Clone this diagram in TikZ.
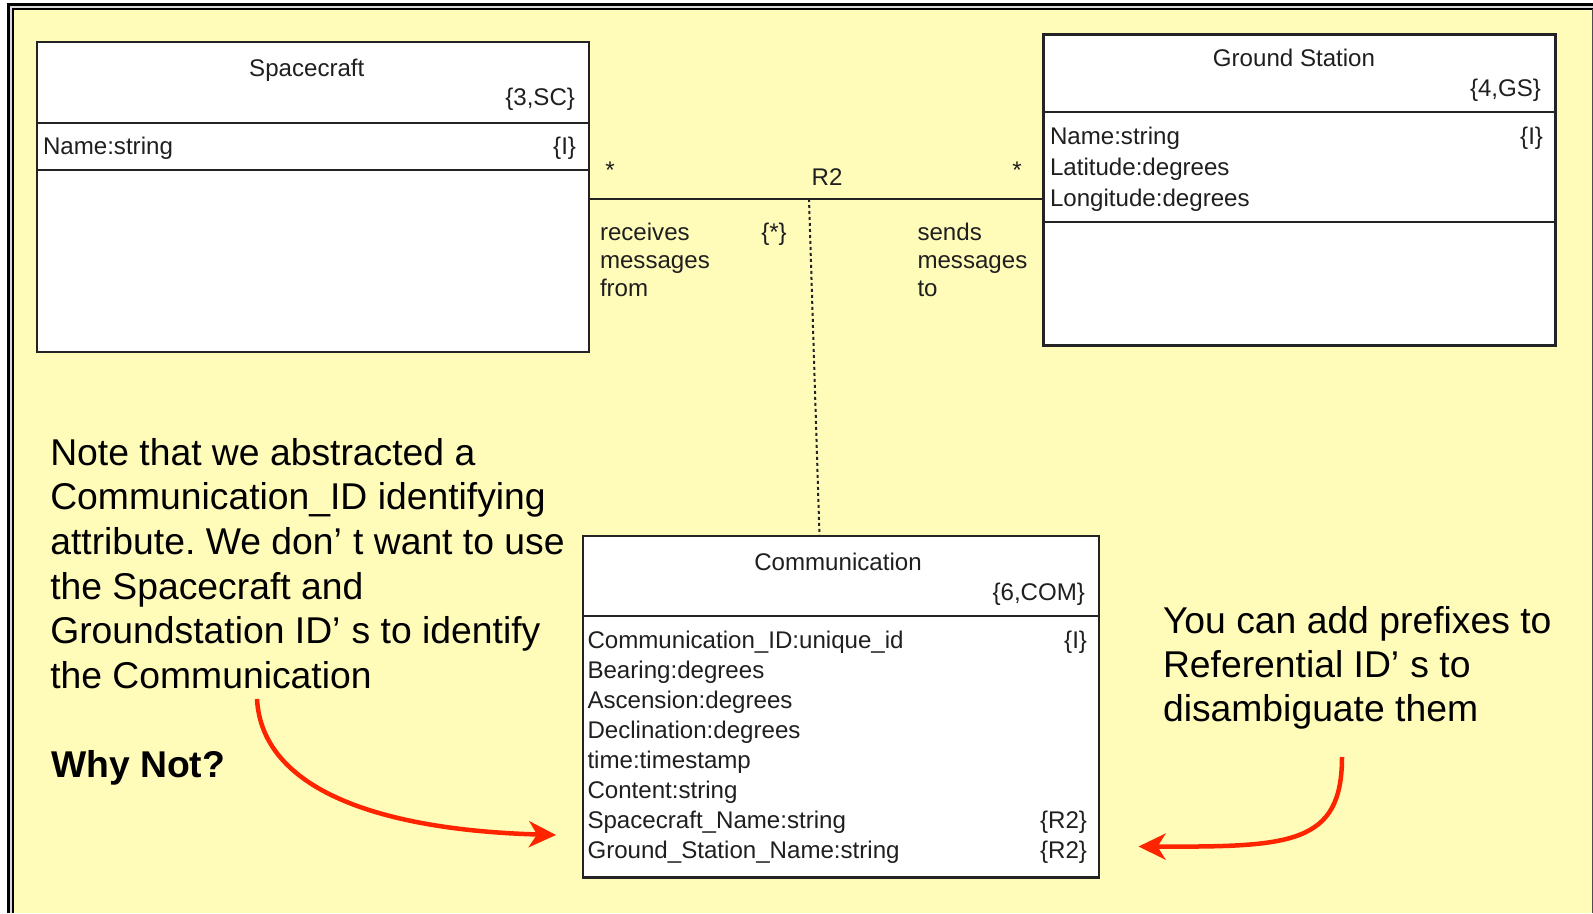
\documentclass[tikz,border=0pt]{standalone}
\usepackage{fontspec}
\setmainfont{Liberation Sans}
\usetikzlibrary{arrows.meta}
\frenchspacing

\definecolor{slideyellow}{RGB}{255,251,185}
\definecolor{notered}{RGB}{255,36,0}
\definecolor{umlline}{RGB}{35,35,35}

\newcommand\umlfont{\fontsize{24.1}{30.4}\selectfont}
\newcommand\notefont{\fontsize{37.3}{44.7}\selectfont}
% lines stacked at a fixed baseline distance; the box baseline is that of the first line
\newcommand\stackedlines[2]{\vtop{\baselineskip=#1\relax\lineskiplimit=-100pt #2}}

\begin{document}
\begin{tikzpicture}[x=1pt,y=-1pt,
  umlbox/.style={draw=umlline, line width=2.2pt, fill=white, inner sep=0pt, outer sep=0pt, anchor=north west},
  umltext/.style={font=\umlfont, text=black!88, inner sep=0pt, outer sep=0pt},
  notetext/.style={font=\notefont, text=black, inner sep=0pt, outer sep=0pt, anchor=base west},
  divider/.style={draw=umlline, line width=2pt},
  assoc/.style={draw=umlline, line width=1.6pt},
  refline/.style={draw=umlline, line width=2pt, dash pattern=on 3pt off 3pt},
  callout/.style={draw=notered, line width=4.5pt, -{Stealth[length=27pt,width=26pt,inset=8pt]}}
]
\useasboundingbox (0,0) rectangle (1593,913);

% slide background with its double frame
\fill[white] (0,0) rectangle (1593,913);
\fill[black!15] (10,5) rectangle (1593,913);
\fill[slideyellow] (14,10) rectangle (1593,913);
\draw[black, line width=3pt] (8.5,913) -- (8.5,4) -- (1593,4);
\draw[black, line width=2pt] (13,913) -- (13,9) -- (1593,9);
\draw[black!70, line width=1.4pt] (1592.3,9) -- (1592.3,913);

% classes
\node[umlbox, minimum width=552.1pt, minimum height=310.3pt] (sc) at (36.6,41.7) {};
\node[umlbox, minimum width=512.1pt, minimum height=310.9pt] (gs) at (1043.4,34.5) {};
\node[umlbox, minimum width=516.1pt, minimum height=341.3pt] (com) at (583.2,536.2) {};

\draw[divider] (sc.west |- 0,123) -- (sc.east |- 0,123);
\draw[divider] (sc.west |- 0,169.7) -- (sc.east |- 0,169.7);
\draw[divider] (gs.west |- 0,111.8) -- (gs.east |- 0,111.8);
\draw[divider] (gs.west |- 0,221.5) -- (gs.east |- 0,221.5);
\draw[divider] (com.west |- 0,616) -- (com.east |- 0,616);

% Spacecraft
\node[umltext, anchor=base] (sctitle) at (306.8,76.5) {Spacecraft};
\node[umltext, anchor=base east] (sckey) at (575,105) {\{3,SC\}};
\node[umltext, anchor=base west] (scattr) at (43,154.5) {Name:string};
\node[umltext, anchor=base east] (scid) at (576,154.5) {\{I\}};

% Ground Station
\node[umltext, anchor=base] (gstitle) at (1294,66.5) {Ground Station};
\node[umltext, anchor=base east] (gskey) at (1541,96.5) {\{4,GS\}};
\node[umltext, anchor=base west] (gsattr) at (1050,144.5)
  {\stackedlines{31pt}{\hbox{Name:string}\hbox{Latitude:degrees}\hbox{Longitude:degrees}}};
\node[umltext, anchor=base east] (gsid) at (1543,144.5) {\{I\}};

% Communication
\node[umltext, anchor=base] (comtitle) at (838,570) {Communication};
\node[umltext, anchor=base east] (comkey) at (1085,600) {\{6,COM\}};
\node[umltext, anchor=base west] (comattr) at (587.5,648.3)
  {\stackedlines{30pt}{\hbox{Communication\_ID:unique\_id}\hbox{Bearing:degrees}%
   \hbox{Ascension:degrees}\hbox{Declination:degrees}\hbox{time:timestamp}%
   \hbox{Content:string}\hbox{Spacecraft\_Name:string}\hbox{Ground\_Station\_Name:string}}};
\node[umltext, anchor=base east] (comid) at (1087,648.3) {\{I\}};
\node[umltext, anchor=base east] (comref1) at (1087,828.3) {\{R2\}};
\node[umltext, anchor=base east] (comref2) at (1087,858.3) {\{R2\}};

% association R2
\draw[assoc] (sc.east |- 0,199) -- (gs.west |- 0,199);
\coordinate (r2foot) at (809,199);
\draw[refline] (r2foot) -- (com.north -| 819.5,0);

\node[umltext, anchor=base] (multsc) at (610,178) {*};
\node[umltext, anchor=base] (r2) at (827,185.5) {R2};
\node[umltext, anchor=base] (multgs) at (1017,178) {*};
\node[umltext, anchor=base west] (phrasesc) at (600,240.5)
  {\stackedlines{28pt}{\hbox{receives}\hbox{messages}\hbox{from}}};
\node[umltext, anchor=base] (multcom) at (774,240.5) {\{*\}};
\node[umltext, anchor=base west] (phrasegs) at (917.5,240.5)
  {\stackedlines{28pt}{\hbox{sends}\hbox{messages}\hbox{to}}};

% notes
\node[notetext] (noteleft) at (50.3,465)
  {\stackedlines{44.7pt}{\hbox{Note that we abstracted a}\hbox{Communication\_ID identifying}%
   \hbox{attribute. We don’\hspace{0.3em}t want to use}\hbox{the Spacecraft and}%
   \hbox{Groundstation ID’\hspace{0.3em}s to identify}\hbox{the Communication}}};
\node[notetext, font=\notefont\bfseries] (whynot) at (51,777) {Why Not?};
\node[notetext] (noteright) at (1163,633)
  {\stackedlines{44.2pt}{\hbox{You can add prefixes to}\hbox{Referential ID’\hspace{0.3em}s to}%
   \hbox{disambiguate them}}};

% callout arrows
\coordinate (lstart) at (257,699);
\coordinate (ltip) at (556,835);
\draw[callout] (lstart) .. controls (262,790) and (380,830) .. (ltip);
\coordinate (rstart) at (1342,757);
\coordinate (rtip) at (1138.5,846.5);
\draw[callout] (rstart) .. controls (1342,845) and (1290,847) .. (rtip);
\end{tikzpicture}
\end{document}
